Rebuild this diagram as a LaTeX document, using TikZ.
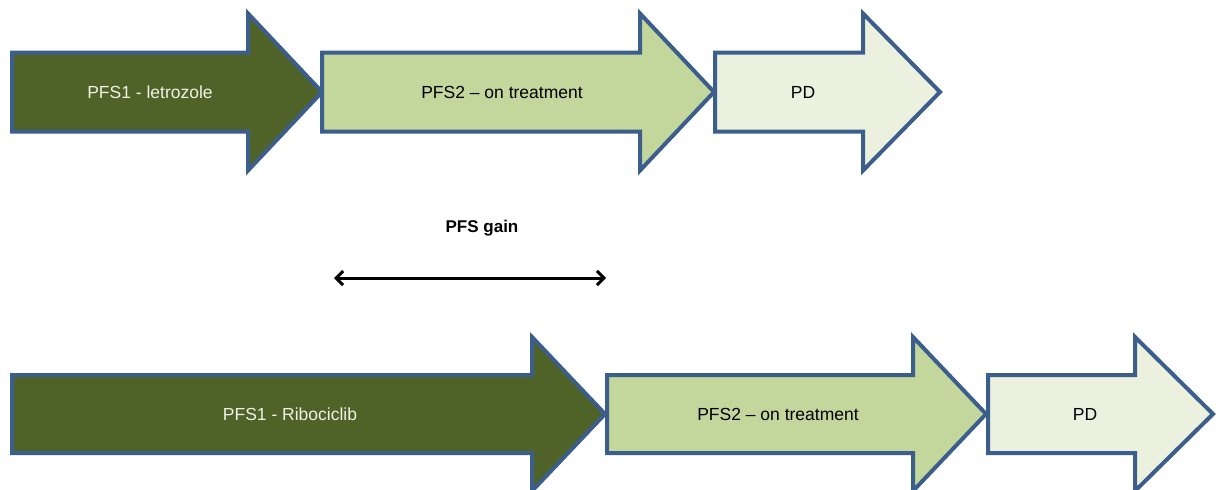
\documentclass[tikz,border=0pt]{standalone}
\usepackage{fontspec}
\setmainfont{Liberation Sans}
\usetikzlibrary{arrows.meta}
\definecolor{edgeblue}{HTML}{3B5E8C}
\definecolor{darkolive}{HTML}{4F6228}
\definecolor{midgreen}{HTML}{C3D69B}
\definecolor{palegreen}{HTML}{EBF1DE}
\definecolor{lighttext}{HTML}{EEF2E4}
\tikzset{
  blockarrow/.style={draw=edgeblue, line width=4pt, line join=miter},
  phase/.style={font=\fontsize{17.5}{19}\selectfont, inner sep=0pt},
  gainlabel/.style={font=\bfseries\fontsize{17}{19}\selectfont, inner sep=0pt},
}
% block arrow: fill, left x, head base x, tip x, centre y, shaft half, head half
\newcommand\phasearrow[7]{%
  \fill[#1] (#2,#5-#6) -- (#3,#5-#6) -- (#3,#5-#7) -- (#4,#5) -- (#3,#5+#7)
    -- (#3,#5+#6) -- (#2,#5+#6) -- cycle;
  \draw[blockarrow] (#2,#5-#6) -- (#3,#5-#6) -- (#3,#5-#7) -- (#4,#5) -- (#3,#5+#7)
    -- (#3,#5+#6) -- (#2,#5+#6) -- cycle;}
\begin{document}
\begin{tikzpicture}[x=1pt, y=-1pt]
  \useasboundingbox (0,0) rectangle (1216,490);
  \begin{scope}
    \clip (0,0) rectangle (1216,490);
    % letrozole arm
    \phasearrow{darkolive}{12}{248}{322}{92}{39.5}{78.5}
    \phasearrow{midgreen}{322}{640}{714}{92}{39.5}{78.5}
    \phasearrow{palegreen}{715}{863}{940}{92}{39.5}{78.5}
    % ribociclib arm
    \phasearrow{darkolive}{12}{532}{605}{414}{39}{77}
    \phasearrow{midgreen}{607}{913}{986}{414}{39}{77}
    \phasearrow{palegreen}{988}{1135}{1213}{414}{39}{77}
  \end{scope}

  \node[phase, text=lighttext] (l1) at (150,92) {PFS1 - letrozole};
  \node[phase] (l2) at (502,92) {PFS2 -- on treatment};
  \node[phase] (l3) at (803,92) {PD};

  \node[phase, text=lighttext] (r1) at (290,414) {PFS1 - Ribociclib};
  \node[phase] (r2) at (778,414) {PFS2 -- on treatment};
  \node[phase] (r3) at (1085,414) {PD};

  \node[gainlabel] (gain) at (482,228) {PFS gain};
  \coordinate (gainL) at (334,278);
  \coordinate (gainR) at (606,278);
  \draw[line width=3pt, {Straight Barb[length=7pt,width=14pt,line width=3pt]}-{Straight Barb[length=7pt,width=14pt,line width=3pt]}]
    (gainL) -- (gainR);
\end{tikzpicture}
\end{document}
